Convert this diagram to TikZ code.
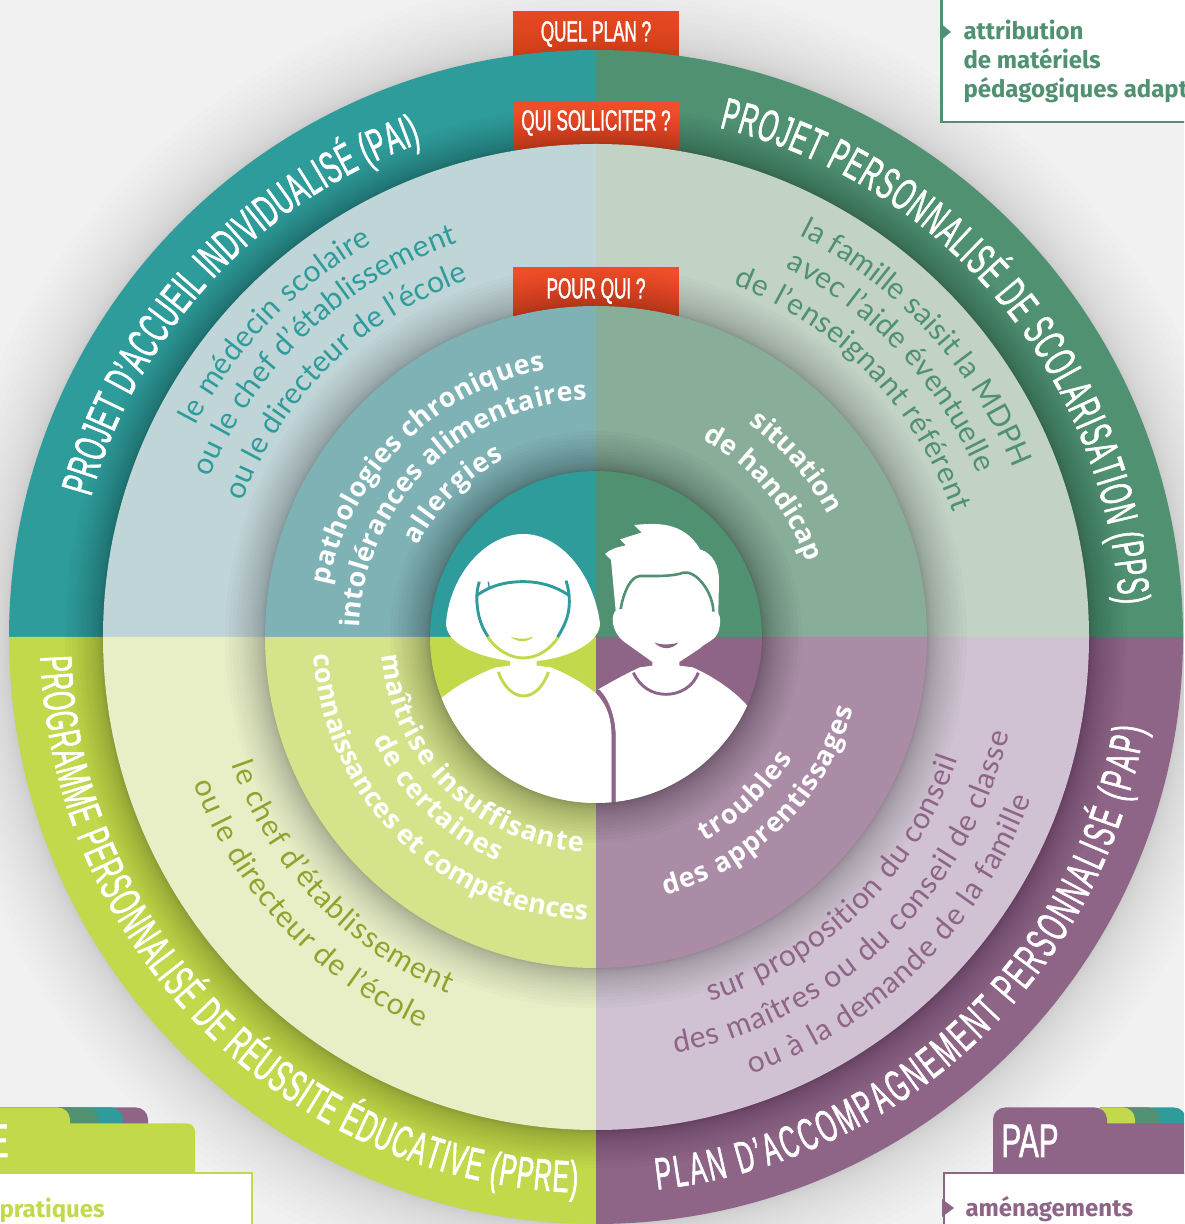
\documentclass[tikz,border=0pt]{standalone}
\usepackage{fontspec}
\usetikzlibrary{decorations.text}
\setmainfont{Lato}
\newfontfamily\ringfam[FakeStretch=0.55,FakeBold=1.2]{Liberation Sans}
\newfontfamily\papfam[FakeStretch=0.63,FakeBold=1.2]{Liberation Sans}
\newfontfamily\labfam[FakeStretch=0.59,FakeBold=1.2]{Liberation Sans}
\newfontfamily\midfam{Lato}
\newfontfamily\boldfam{Open Sans}
\newfontfamily\listfam{Fira Sans}
\definecolor{cteal}{HTML}{2E9C9A}
\definecolor{cgreen}{HTML}{4F9170}
\definecolor{clime}{HTML}{C2D94B}
\definecolor{cpurple}{HTML}{8E6487}
\definecolor{mteal}{HTML}{BFD5D8}
\definecolor{mgreen}{HTML}{C2D3C6}
\definecolor{mlime}{HTML}{E8EFC7}
\definecolor{mpurple}{HTML}{D0C2D2}
\definecolor{iteal}{HTML}{7FB2B5}
\definecolor{igreen}{HTML}{88AD98}
\definecolor{ilime}{HTML}{D5E38A}
\definecolor{ipurple}{HTML}{AA8CA7}
\definecolor{cred}{HTML}{F04E28}
\definecolor{tlime}{HTML}{8FA32F}
\definecolor{bggrey}{HTML}{F1F1F1}
\newcommand{\quads}[5]{%
  \fill[#2] (0,0) -- (90:#1) arc[start angle=90,end angle=180,radius=#1] -- cycle;
  \fill[#3] (0,0) -- (90:#1) arc[start angle=90,end angle=0,radius=#1] -- cycle;
  \fill[#4] (0,0) -- (180:#1) arc[start angle=180,end angle=270,radius=#1] -- cycle;
  \fill[#5] (0,0) -- (270:#1) arc[start angle=270,end angle=360,radius=#1] -- cycle;
}
\newcommand{\softshadow}[3]{% radius, reach, opacity per step
  \foreach \i in {1,...,20}{\fill[black,opacity=#3] (0,0) circle ({#1+#2*(\i/20)*(\i/20)});}
}
\newcommand{\arctext}[6]{% font, colour, radius, start, end, text
  \path[decorate,decoration={text along path,text align={fit to path},
    text={|#1\color{#2}|#6}}]
    (#4:#3) arc[start angle=#4,end angle=#5,radius=#3];
}
\newcommand{\ringtxt}{\ringfam\fontsize{45}{45}\selectfont}
\newcommand{\midtxt}{\midfam\fontsize{30}{30}\selectfont}
\newcommand{\boldtxt}{\boldfam\bfseries\fontsize{27}{27}\selectfont}
\tikzset{
  labelbox/.style={fill=cred,minimum width=166pt,minimum height=49pt,inner sep=0pt},
  labeltext/.style={text=white,font=\labfam\fontsize{29}{29}\selectfont,inner sep=0pt},
  listtext/.style={anchor=base west,inner sep=0pt,font=\listfam\bfseries\fontsize{24}{24}\selectfont},
  whitebody/.style={fill=white,draw=none},
}
\begin{document}
\begin{tikzpicture}[x=1pt,y=1pt,line width=1pt]
\clip (0,0) rectangle (1184,1224);
\fill[bggrey] (0,0) rectangle (1184,1224);
\node[labelbox] (planbox) at (596,1224-36) {};
\begin{scope}[shift={(596,587)}]
\softshadow{587}{70}{.009}
\quads{587}{cteal}{cgreen}{clime}{cpurple}
\end{scope}
\node[labelbox] (quibox) at (596,1224-125.5) {};
\begin{scope}[shift={(596,587)}]
\softshadow{493}{38}{.015}
\quads{493}{mteal}{mgreen}{mlime}{mpurple}
\end{scope}
\node[labelbox] (pourbox) at (596,1224-291.5) {};
\begin{scope}[shift={(596,587)}]
\softshadow{331}{40}{.014}
\quads{331}{iteal}{igreen}{ilime}{ipurple}
\softshadow{166}{40}{.018}
\quads{166}{cteal}{cgreen}{clime}{cpurple}
% outer ring titles
\arctext{\ringtxt}{white}{524}{164.5}{109.5}{PROJET D’ACCUEIL INDIVIDUALISÉ (PAI)}
\arctext{\ringtxt}{white}{524}{76.4}{3.6}{PROJET PERSONNALISÉ DE SCOLARISATION (PPS)}
\arctext{\ringtxt}{white}{556}{182}{268}{PROGRAMME PERSONNALISÉ DE RÉUSSITE ÉDUCATIVE (PPRE)}
\arctext{\ringtxt}{white}{556}{276.3}{350.5}{PLAN D’ACCOMPAGNEMENT PERSONNALISÉ (PAP)}
% middle ring
\arctext{\midtxt}{cteal}{453}{152.2}{119.6}{le médecin scolaire}
\arctext{\midtxt}{cteal}{418}{157.5}{109.3}{ou le chef d’établissement}
\arctext{\midtxt}{cteal}{379}{159}{109.7}{ou le directeur de l’école}
\arctext{\midtxt}{cgreen}{450}{63.1}{22}{la famille saisit la MDPH}
\arctext{\midtxt}{cgreen}{415}{62.8}{23.2}{avec l’aide éventuelle}
\arctext{\midtxt}{cgreen}{378}{68.6}{19.3}{de l’enseignant référent}
\arctext{\midtxt}{cpurple}{382}{287.4}{341.3}{sur proposition du conseil}
\arctext{\midtxt}{cpurple}{424}{280.8}{346.8}{des maîtres ou du conseil de classe}
\arctext{\midtxt}{cpurple}{464}{289.6}{339.6}{ou à la demande de la famille}
\arctext{\midtxt}{tlime}{386}{199.3}{247.5}{le chef d’établissement}
\arctext{\midtxt}{tlime}{428}{200}{246}{ou le directeur de l’école}
% inner ring
\arctext{\boldtxt}{white}{272}{169}{100.8}{pathologies chroniques}
\arctext{\boldtxt}{white}{237}{177.8}{92.2}{intolérances alimentaires}
\arctext{\boldtxt}{white}{200}{152.8}{117.2}{allergies}
\arctext{\boldtxt}{white}{262}{54.4}{27.8}{situation}
\arctext{\boldtxt}{white}{224}{61.6}{21}{de handicap}
\arctext{\boldtxt}{white}{231}{298}{328.3}{troubles}
\arctext{\boldtxt}{white}{267}{285}{344.3}{des apprentissages}
\arctext{\boldtxt}{white}{215}{184.8}{266.5}{maîtrise insuffisante}
\arctext{\boldtxt}{white}{245}{204.7}{246.3}{de certaines}
\arctext{\boldtxt}{white}{283}{183.6}{268.2}{connaissances et compétences}
\end{scope}
% red label texts
\node[labeltext] (plant) at (596,1224-34) {QUEL PLAN ?};
\node[labeltext] (quit) at (596,1224-123) {QUI SOLLICITER ?};
\node[labeltext] (pourt) at (596,1224-291) {POUR QUI ?};
% people, traced in zoom coordinates
\begin{scope}[shift={(420,764)},x=0.33333pt,y=-0.33333pt]
\begin{scope}
\clip (528,531) circle (498);
\fill[whitebody] (228,622) -- (270,617) -- (270,590) -- (350,590) -- (350,617) -- (392,622)
  .. controls (440,640) and (490,670) .. (528,700)
  .. controls (565,740) and (575,780) .. (575,830) -- (575,1040) -- (0,1040) -- (30,740) -- (72,708)
  .. controls (120,670) and (180,640) .. (228,622) -- cycle;
\fill[whitebody] (660,622) -- (697,617) -- (697,590) -- (778,590) -- (778,617) -- (818,622)
  .. controls (880,650) and (940,690) .. (980,735) -- (1050,800) -- (1050,1040) -- (587,1040) -- (587,830)
  .. controls (587,770) and (565,720) .. (535,688)
  .. controls (575,665) and (620,640) .. (660,622) -- cycle;
\end{scope}
\draw[cpurple,line width=3.6pt] (534,692) .. controls (565,725) and (581,775) .. (581,835) -- (581,1026);
\fill[whitebody] (310,222) .. controls (420,222) and (520,340) .. (540,490)
  .. controls (540,550) and (440,595) .. (350,603) -- (270,603)
  .. controls (170,590) and (78,550) .. (78,490)
  .. controls (90,340) and (200,222) .. (310,222) -- cycle;
\draw[cteal,line width=2.9pt] (178,365) .. controls (172,385) and (168,405) .. (172,440)
  .. controls (176,480) and (190,510) .. (205,531);
\draw[clime,line width=2.9pt] (203,531) .. controls (230,570) and (270,594) .. (310,594)
  .. controls (350,594) and (390,570) .. (415,531);
\draw[cteal,line width=2.9pt] (413,531) .. controls (435,495) and (448,465) .. (448,425)
  .. controls (448,400) and (444,380) .. (438,362);
\draw[cteal,line width=2.9pt] (172,405) .. controls (215,375) and (260,365) .. (310,365)
  .. controls (360,365) and (405,378) .. (445,405);
\draw[cteal,line width=1.4pt] (205,365) -- (208,385);
\fill[clime] (272,530) .. controls (295,538) and (320,538) .. (340,530)
  .. controls (325,548) and (290,548) .. (272,530) -- cycle;
\draw[clime,line width=2.9pt] (235,636) .. controls (250,680) and (280,708) .. (310,708)
  .. controls (342,708) and (370,680) .. (385,636);
\fill[whitebody] (642,195) .. controls (700,190) and (790,180) .. (840,268)
  .. controls (880,280) and (897,320) .. (897,360) -- (895,460) .. controls (903,470) and (902,500) .. (893,520)
  .. controls (880,545) and (860,545) .. (840,565) -- (775,608) -- (700,608) -- (640,565)
  .. controls (620,550) and (600,540) .. (590,520) .. controls (578,500) and (572,470) .. (587,452)
  -- (573,300) -- (555,282) .. controls (570,268) and (590,262) .. (618,256)
  -- (600,238) .. controls (620,232) and (640,225) .. (665,218) -- cycle;
\draw[cgreen,line width=2.6pt] (602,447) .. controls (610,400) and (630,350) .. (660,348)
  .. controls (700,348) and (760,350) .. (790,338) .. controls (830,330) and (880,400) .. (880,455);
\fill[cpurple] (703,548) .. controls (725,555) and (750,555) .. (775,548)
  .. controls (755,570) and (725,570) .. (703,548) -- cycle;
\draw[cpurple,line width=2.9pt] (640,638) .. controls (660,680) and (695,703) .. (738,703)
  .. controls (780,703) and (820,680) .. (835,638);
\end{scope}
% top right card
\draw[cgreen,line width=2.5pt,fill=white] (941.5,1240) -- (941.5,1224-122) -- (1200,1224-122) -- (1200,1240) -- cycle;
\fill[cgreen] (940,1224-23) -- (951,1224-32) -- (940,1224-41) -- cycle;
\node[listtext,text=cgreen] (a1) at (963,1224-40) {attribution};
\node[listtext,text=cgreen] (a2) at (963,1224-69) {de matériels};
\node[listtext,text=cgreen] (a3) at (963,1224-98) {pédagogiques adaptés};
% bottom left tabs
\fill[cpurple] (-10,1224-1124) -- (-10,1224-1107.5) -- (136,1224-1107.5) arc[start angle=90,end angle=0,radius=12] -- (148,1224-1124) -- cycle;
\fill[cteal] (-10,1224-1124) -- (-10,1224-1107.5) -- (111,1224-1107.5) arc[start angle=90,end angle=0,radius=12] -- (123,1224-1124) -- cycle;
\fill[cgreen] (-10,1224-1124) -- (-10,1224-1107.5) -- (86,1224-1107.5) arc[start angle=90,end angle=0,radius=12] -- (98,1224-1124) -- cycle;
\fill[clime] (-10,1224-1124) -- (-10,1224-1107.5) -- (58,1224-1107.5) arc[start angle=90,end angle=0,radius=12] -- (70,1224-1124) -- cycle;
\fill[clime] (-10,1224-1175) -- (-10,1224-1123.5) -- (187,1224-1123.5) arc[start angle=90,end angle=0,radius=8] -- (195,1224-1175) -- cycle;
\draw[clime,line width=2pt,fill=white] (-10,1224-1173.5) -- (252,1224-1173.5) -- (252,-10) -- (-10,-10) -- cycle;
\node[anchor=base east,inner sep=0pt,text=white,font=\papfam\fontsize{47}{47}\selectfont] (e) at (9,1224-1157) {E};
\node[listtext,text=clime] (p1) at (-1,1224-1218) {pratiques};
% bottom right tabs
\fill[cteal] (1100,1224-1124) -- (1100,1224-1107.5) -- (1174,1224-1107.5) arc[start angle=90,end angle=0,radius=12] -- (1186,1224-1124) -- cycle;
\fill[cgreen] (1100,1224-1124) -- (1100,1224-1107.5) -- (1148,1224-1107.5) arc[start angle=90,end angle=0,radius=12] -- (1160,1224-1124) -- cycle;
\fill[clime] (1100,1224-1124) -- (1100,1224-1107.5) -- (1123,1224-1107.5) arc[start angle=90,end angle=0,radius=12] -- (1135,1224-1124) -- cycle;
\fill[cpurple] (993,1224-1175) -- (993,1224-1119.5) arc[start angle=180,end angle=90,radius=12] -- (1095,1224-1107.5) arc[start angle=90,end angle=0,radius=12] -- (1107,1224-1123.5) -- (1190,1224-1123.5) -- (1190,1224-1175) -- cycle;
\draw[cpurple,line width=2pt,fill=white] (943.5,-10) -- (943.5,1224-1173.5) -- (1200,1224-1173.5) -- (1200,-10) -- cycle;
\fill[cpurple] (942,1224-1199) -- (954,1224-1208) -- (942,1224-1217) -- cycle;
\node[anchor=base west,inner sep=0pt,text=white,font=\papfam\fontsize{47}{47}\selectfont] (papt) at (1001,1224-1157) {PAP};
\node[listtext,text=cpurple] (am) at (965,1224-1217) {aménagements};
\end{tikzpicture}
\end{document}
